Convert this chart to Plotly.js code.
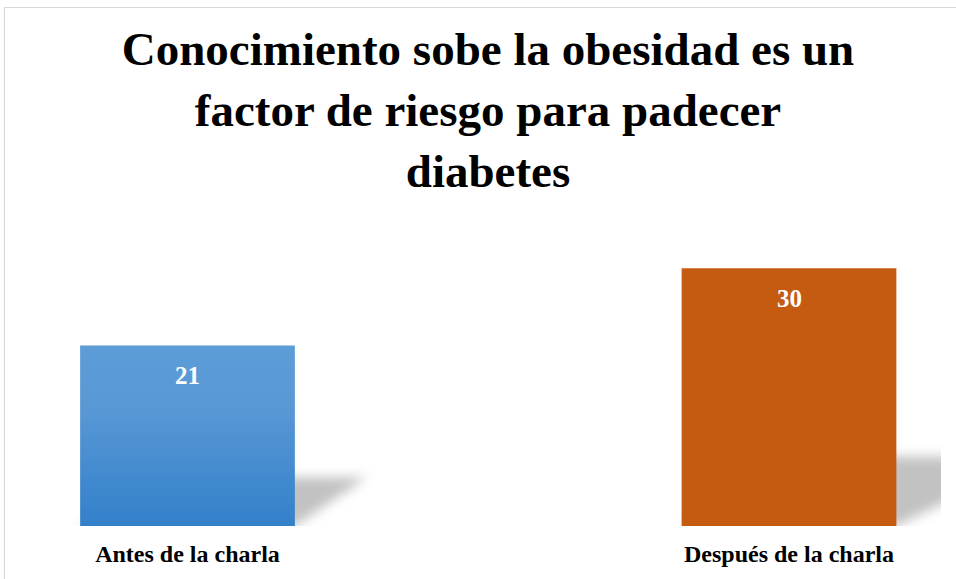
<!DOCTYPE html>
<html>
<head>
<meta charset="utf-8">
<script src="https://cdn.plot.ly/plotly-3.0.1.min.js"></script>
<style>html,body{margin:0;padding:0;background:#fff;}#chart{width:956px;height:579px;}</style>
</head>
<body>
<div id="chart"></div>
<script>
// ---- data ----
var categories = ["Antes de la charla", "Después de la charla"];
var values = [21, 30];
var barColors = ["#4a8dd1", "#c55a11"];
var chartTitle = "Conocimiento sobe la obesidad es un<br>factor de riesgo para padecer<br>diabetes";

// ---- layout constants ----
var W = 956, H = 579;
var mL = 0, mR = 15, mT = 200, mB = 53;
var plotW = W - mL - mR, plotH = H - mT - mB;
var pxPerCat = 601.5, firstCenterPx = 187.5;
var pxPerUnit = 8.59;
var barWidth = 0.357;
var xr0 = -firstCenterPx / pxPerCat;
var xr1 = xr0 + plotW / pxPerCat;
var yMax = plotH / pxPerUnit;

var xIdx = categories.map(function (c, i) { return i; });

var serif = "'Liberation Serif', 'Times New Roman', Times, serif";

// shadows derived from the data
var shadowK = 0.27;
var shadowD = [0.12, 0.24];
var shapes = values.map(function (v, i) {
  var x0 = i - barWidth / 2, x1 = i + barWidth / 2, d = shadowD[i], h = v * shadowK;
  return {
    type: "path", xref: "x", yref: "y", layer: "below",
    path: "M" + x0 + "," + 0 + " L" + x1 + "," + 0 + " L" + (x1 + d) + "," + h + " L" + (x0 + d) + "," + h + " Z",
    fillcolor: "rgba(0,0,0,0.24)", line: {width: 0}
  };
});
// outer frame (top and left edges)
function px2paperX(p) { return (p - mL) / plotW; }
function px2paperY(p) { return (H - mB - p) / plotH; }
shapes.push({type: "line", xref: "paper", yref: "paper", x0: px2paperX(4), x1: px2paperX(960), y0: px2paperY(7.5), y1: px2paperY(7.5), line: {color: "#d9d9d9", width: 1.2}});
shapes.push({type: "line", xref: "paper", yref: "paper", x0: px2paperX(4.5), x1: px2paperX(4.5), y0: px2paperY(7), y1: px2paperY(585), line: {color: "#d9d9d9", width: 1.2}});

var annotations = values.map(function (v, i) {
  return {
    x: i, y: v, xref: "x", yref: "y", text: "<b>" + v + "</b>", showarrow: false,
    yanchor: "middle", yshift: -30,
    font: {family: serif, size: 25, color: "#ffffff"}
  };
});

var trace = {
  type: "bar",
  x: xIdx,
  y: values,
  width: barWidth,
  marker: {color: barColors, line: {width: 0}},
  hoverinfo: "skip"
};

var layout = {
  width: W, height: H,
  margin: {l: mL, r: mR, t: mT, b: mB, pad: 0},
  paper_bgcolor: "#ffffff", plot_bgcolor: "rgba(0,0,0,0)",
  showlegend: false,
  title: {
    text: chartTitle,
    font: {family: serif, size: 47, color: "#000000", weight: 700},
    x: 488 / W, xref: "container", xanchor: "center",
    y: 1 - 65 / H, yref: "container", yanchor: "top"
  },
  xaxis: {
    type: "linear", range: [xr0, xr1], fixedrange: true,
    tickmode: "array", tickvals: xIdx, ticktext: categories.map(function (c) { return "<b>" + c + "</b>"; }),
    tickfont: {family: serif, size: 24, color: "#000000"},
    ticks: "", showgrid: false, zeroline: false, showline: false,
    ticklabelstandoff: 11
  },
  yaxis: {
    range: [0, yMax], fixedrange: true, visible: false, showgrid: false, zeroline: false
  },
  shapes: shapes,
  annotations: annotations
};

var gd = document.getElementById("chart");
Plotly.newPlot(gd, [trace], layout, {staticPlot: true, displayModeBar: false}).then(function () {
  var NS = "http://www.w3.org/2000/svg";
  var svg = gd.querySelector("svg.main-svg");
  var defs = svg.querySelector("defs");
  if (!defs) { defs = document.createElementNS(NS, "defs"); svg.insertBefore(defs, svg.firstChild); }
  // blue gradient
  var lg = document.createElementNS(NS, "linearGradient");
  lg.setAttribute("id", "blueGrad");
  lg.setAttribute("x1", "0"); lg.setAttribute("y1", "0"); lg.setAttribute("x2", "0"); lg.setAttribute("y2", "1");
  [["0", "#5c9cd7"], ["0.35", "#5898d5"], ["1", "#3380ca"]].forEach(function (s) {
    var st = document.createElementNS(NS, "stop");
    st.setAttribute("offset", s[0]); st.setAttribute("stop-color", s[1]);
    lg.appendChild(st);
  });
  defs.appendChild(lg);
  // blur filter
  var f = document.createElementNS(NS, "filter");
  f.setAttribute("id", "shadowBlur");
  f.setAttribute("x", "-30%"); f.setAttribute("y", "-30%"); f.setAttribute("width", "160%"); f.setAttribute("height", "160%");
  var gb = document.createElementNS(NS, "feGaussianBlur");
  gb.setAttribute("stdDeviation", "6");
  f.appendChild(gb);
  defs.appendChild(f);

  var bars = gd.querySelectorAll(".barlayer .point path");
  if (bars.length) { bars[0].style.fill = "url(#blueGrad)"; }
  var sp = gd.querySelectorAll(".shapelayer path");
  for (var i = 0; i < sp.length; i++) {
    var idx = sp[i].getAttribute("data-index");
    if (idx === "0" || idx === "1") { sp[i].setAttribute("filter", "url(#shadowBlur)"); }
  }
});
</script>
</body>
</html>
